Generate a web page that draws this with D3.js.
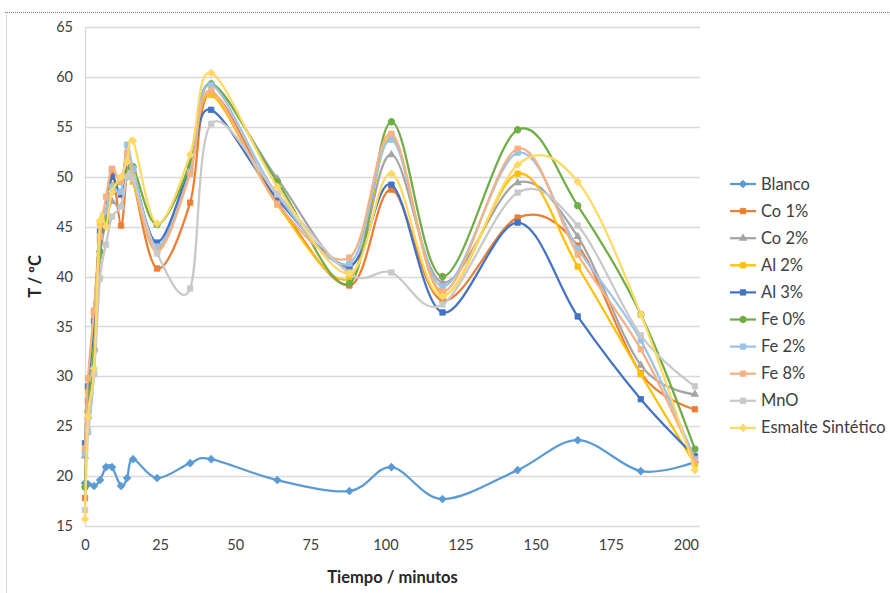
<!DOCTYPE html>
<html>
<head>
<meta charset="utf-8">
<script src="https://cdn.jsdelivr.net/npm/d3@7"></script>
<style>
  body { margin: 0; background: #fff; }
  svg { display: block; font-family: Lato, "Open Sans", sans-serif; }
</style>
</head>
<body>
<svg></svg>
<script>
const size = {w: 890, h: 593};
const margin = {t: 27, r: 190, b: 67, l: 85};

// minutos
const tiempos = [0, 1, 3, 5, 7, 9, 12, 14, 16, 24, 35, 42, 64, 88, 102, 119, 144, 164, 185, 203];

const blanco    = [19.3, 19.2, 19.0, 19.6, 20.9, 20.9, 19.0, 19.8, 21.7, 19.8, 21.3, 21.7, 19.6, 18.5, 20.9, 17.7, 20.6, 23.6, 20.5, 21.4];
const co1       = [17.8, 27.5, 36.5, 43.5, 46.0, 50.7, 45.1, 50.3, 49.6, 40.8, 47.4, 58.4, 47.5, 39.1, 48.7, 37.6, 45.9, 43.1, 30.3, 26.7];
const co2       = [22.0, 26.0, 33.0, 42.0, 45.5, 47.5, 47.0, 51.0, 50.5, 42.8, 51.5, 59.3, 49.8, 40.9, 52.2, 39.4, 49.4, 44.0, 31.1, 28.2];
const al2       = [22.5, 28.5, 36.0, 45.3, 46.0, 49.2, 49.5, 50.5, 49.5, 42.6, 50.5, 58.2, 47.2, 39.8, 54.0, 38.2, 50.3, 41.0, 30.2, 21.2];
const al3       = [23.3, 29.0, 35.5, 44.5, 46.5, 50.0, 48.2, 51.5, 50.5, 43.4, 51.0, 56.7, 47.8, 41.1, 49.2, 36.4, 45.4, 36.0, 27.7, 22.0];
const fe0       = [18.9, 26.5, 32.6, 42.5, 45.5, 48.5, 49.5, 50.0, 51.0, 45.2, 51.3, 59.3, 49.5, 39.3, 55.5, 40.0, 54.7, 47.1, 36.2, 22.7];
const fe2       = [22.3, 24.4, 30.3, 44.0, 46.5, 49.0, 48.5, 53.2, 50.8, 43.0, 50.5, 59.2, 48.2, 41.3, 53.7, 39.0, 52.4, 42.8, 33.6, 21.7];
const fe8       = [22.8, 29.8, 36.6, 44.0, 48.0, 50.8, 49.5, 52.4, 50.0, 42.5, 50.3, 58.6, 47.3, 41.9, 54.3, 38.5, 52.8, 42.2, 32.7, 21.5];
const mno       = [16.6, 24.6, 30.2, 39.8, 43.2, 46.0, 47.0, 50.0, 49.8, 42.3, 38.8, 55.3, 48.3, 40.3, 40.4, 37.2, 48.4, 45.1, 34.1, 29.0];
const esmalte   = [15.7, 26.0, 30.8, 45.6, 45.0, 48.5, 50.0, 51.5, 53.6, 45.3, 52.2, 60.4, 49.0, 40.3, 50.3, 38.0, 51.2, 49.5, 36.2, 20.6];

const nombres   = ['Blanco', 'Co 1%', 'Co 2%', 'Al 2%', 'Al 3%', 'Fe 0%', 'Fe 2%', 'Fe 8%', 'MnO', 'Esmalte Sintético'];
const colores   = ['#5B9BD5', '#ED7D31', '#A5A5A5', '#FFC000', '#4472C4', '#70AD47', '#9DC3E6', '#F4B183', '#C9C9C9', '#FFD966'];
const marcadores = ['diamond', 'square', 'triangle', 'square', 'square', 'circle', 'square', 'square', 'square', 'diamond'];
const valores   = [blanco, co1, co2, al2, al3, fe0, fe2, fe8, mno, esmalte];

const xTicks = [0, 25, 50, 75, 100, 125, 150, 175, 200];
const yTicks = [15, 20, 25, 30, 35, 40, 45, 50, 55, 60, 65];

const series = nombres.map((n, i) => ({
    name: n,
    color: colores[i],
    marker: marcadores[i],
    values: tiempos.map((t, j) => ({t: t, v: valores[i][j]}))
}));

const svg = d3.select('svg')
    .attr('width', size.w)
    .attr('height', size.h);

// marco del gráfico
svg.append('line')
    .attr('x1', 5).attr('x2', size.w).attr('y1', 12.5).attr('y2', 12.5)
    .style('stroke', '#7f7f7f').style('stroke-dasharray', '1,1');
svg.append('line')
    .attr('x1', 6.5).attr('x2', 6.5).attr('y1', 12).attr('y2', size.h)
    .style('stroke', '#d9d9d9');

const x = d3.scaleLinear()
    .domain([0, 204.7])
    .range([margin.l, size.w - margin.r]);

const y = d3.scaleLinear()
    .domain([15, 65])
    .range([size.h - margin.b, margin.t]);

const plotG = svg.append('g');

// rejilla
plotG.selectAll('line.grid')
    .data(yTicks)
    .join('line')
    .attr('class', 'grid')
    .attr('x1', x.range()[0])
    .attr('x2', x.range()[1])
    .attr('y1', d => Math.round(y(d)) + 0.5)
    .attr('y2', d => Math.round(y(d)) + 0.5)
    .style('stroke', '#d9d9d9')
    .style('stroke-width', 1.3);

// eje vertical
plotG.append('line')
    .attr('x1', x(0) + 0.5).attr('x2', x(0) + 0.5)
    .attr('y1', y(65)).attr('y2', y(15))
    .style('stroke', '#d9d9d9')
    .style('stroke-width', 1.3);

// etiquetas de los ejes
const yAxis = d3.axisLeft(y).tickValues(yTicks).tickSize(0).tickPadding(12);
const yG = svg.append('g').attr('transform', `translate(${x(0)},0)`).call(yAxis);
yG.select('.domain').remove();
yG.selectAll('text').style('font-size', '14.5px').style('fill', '#404040').style('font-family', 'Lato, sans-serif');

const xAxis = d3.axisBottom(x).tickValues(xTicks).tickSize(0).tickPadding(14);
const xG = svg.append('g').attr('transform', `translate(0,${y(15)})`).call(xAxis);
xG.select('.domain').remove();
xG.selectAll('text').style('font-size', '14.5px').style('fill', '#404040').style('font-family', 'Lato, sans-serif');

svg.append('text')
    .attr('x', (x.range()[0] + x.range()[1]) / 2)
    .attr('y', 583)
    .attr('text-anchor', 'middle')
    .style('font-size', '16.5px')
    .style('font-weight', 'bold')
    .style('fill', '#262626')
    .text('Tiempo / minutos');

svg.append('text')
    .attr('transform', `translate(41,${y(40)}) rotate(-90)`)
    .attr('text-anchor', 'middle')
    .style('font-size', '16.5px')
    .style('font-weight', 'bold')
    .style('fill', '#262626')
    .text('T / ºC');

// líneas suavizadas (como Excel)
const line = d3.line()
    .x(d => x(d.t))
    .y(d => y(d.v))
    .curve(d3.curveCardinal.tension(0));

const symbolType = {
    diamond: d3.symbolDiamond2,
    square: d3.symbolSquare2,
    triangle: d3.symbolTriangle2,
    circle: d3.symbolCircle
};
const symbolSize = {diamond: 30, square: 38, triangle: 30, circle: 30};

function drawMarker(g, s, cx, cy) {
    g.append('path')
        .attr('transform', `translate(${cx},${cy})`)
        .attr('d', d3.symbol().type(symbolType[s.marker]).size(symbolSize[s.marker])())
        .style('fill', s.color)
        .style('stroke', s.color)
        .style('stroke-width', s.marker === 'square' ? 0.8 : 1.2);
}

series.forEach(s => {
    const g = plotG.append('g');
    g.append('path')
        .datum(s.values)
        .attr('d', line)
        .style('fill', 'none')
        .style('stroke', s.color)
        .style('stroke-width', 2.25)
        .style('stroke-linejoin', 'round');
    s.values.forEach(d => drawMarker(g, s, x(d.t), y(d.v)));
});

// leyenda
const legend = svg.append('g').attr('transform', 'translate(730,184)');
series.forEach((s, i) => {
    const ly = i * 27.1;
    const item = legend.append('g');
    item.append('line')
        .attr('x1', 0).attr('x2', 26)
        .attr('y1', ly).attr('y2', ly)
        .style('stroke', s.color)
        .style('stroke-width', 2.25);
    drawMarker(item, s, 13, ly);
    item.append('text')
        .attr('x', 31)
        .attr('y', ly + 5.5)
        .style('font-size', '16.5px')
        .style('fill', '#404040')
        .text(s.name);
});
</script>
</body>
</html>
